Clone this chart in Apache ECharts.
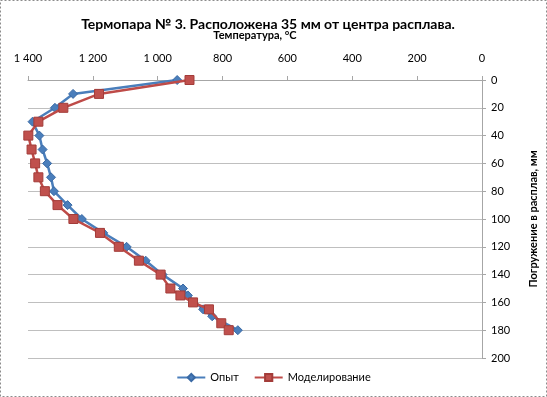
<!DOCTYPE html>
<html>
<head>
<meta charset="utf-8">
<title>Термопара № 3</title>
<script src="https://cdn.jsdelivr.net/npm/echarts@6/dist/echarts.min.js"></script>
<style>
  html, body { margin: 0; padding: 0; background: #fff; }
  #chart { width: 547px; height: 397px; }
</style>
</head>
<body>
<div id="chart"></div>
<script>
// Depth (mm) and temperature (°C).
const expDepth = [0, 10, 20, 30, 40, 50, 60, 70, 80, 90, 100, 110, 120, 130, 140, 150, 155, 165, 170, 180];
const expTemp = [940, 1261, 1317, 1386, 1365, 1355, 1341, 1329, 1320, 1278, 1234, 1168, 1096, 1037, 985, 922, 907, 860, 832, 753];

const modDepth = [0, 10, 20, 30, 40, 50, 60, 70, 80, 90, 100, 110, 120, 130, 140, 150, 155, 160, 165, 175, 180];
const modTemp = [902, 1181, 1291, 1368, 1399, 1389, 1378, 1368, 1348, 1309, 1260, 1178, 1120, 1058, 991, 961, 930, 891, 842, 804, 781];

const seriesNames = ['Опыт', 'Моделирование'];
const titleText = 'Термопара № 3. Расположена 35 мм от центра расплава.';
const xName = 'Температура, °C';
const yName = 'Погружение в расплав, мм';

const FONT = 'Lato, "Open Sans", sans-serif';

// Excel-style thousands separator: 1400 -> "1 400"
function fmtThousands(v) {
  return String(v).replace(/\B(?=(\d{3})+(?!\d))/g, ' ');
}

const chart = echarts.init(document.getElementById('chart'), null, { renderer: 'canvas' });

chart.setOption({
  animation: false,
  backgroundColor: '#fff',
  textStyle: { fontFamily: FONT },
  title: {
    text: titleText,
    left: 263,
    top: 12,
    textAlign: 'center',
    textStyle: { fontFamily: FONT, fontSize: 14, fontWeight: 'bold', color: '#000' },
  },
  legend: {
    data: seriesNames,
    bottom: 9,
    left: 'center',
    itemWidth: 28,
    itemHeight: 9,
    itemGap: 15,
    textStyle: { fontFamily: FONT, fontSize: 11, color: '#000' },
  },
  grid: { left: 28, right: 64, top: 80, bottom: 39, containLabel: false },
  xAxis: {
    type: 'value',
    position: 'top',
    inverse: true,
    min: 0,
    max: 1400,
    interval: 200,
    name: xName,
    nameLocation: 'middle',
    nameGap: 39,
    nameTextStyle: { fontFamily: FONT, fontSize: 11, fontWeight: 'bold', color: '#000', padding: [0, 0, 0, 0] },
    axisLine: { show: true, lineStyle: { color: '#a6a6a6', width: 1 } },
    axisTick: { show: true, length: 4, lineStyle: { color: '#a6a6a6' } },
    axisLabel: { color: '#000', fontSize: 11, margin: 16, formatter: fmtThousands },
    splitLine: { show: false },
  },
  yAxis: {
    type: 'value',
    position: 'right',
    inverse: true,
    min: 0,
    max: 200,
    interval: 20,
    name: yName,
    nameLocation: 'middle',
    nameGap: 46,
    nameRotate: 90,
    nameTextStyle: { fontFamily: FONT, fontSize: 11, fontWeight: 'bold', color: '#000' },
    axisLine: { show: true, lineStyle: { color: '#a6a6a6', width: 1 } },
    axisTick: { show: true, inside: false, length: 4, lineStyle: { color: '#a6a6a6' } },
    axisLabel: { color: '#000', fontSize: 11, margin: 9 },
    splitLine: { show: true, lineStyle: { color: '#bfbfbf', width: 1 } },
  },
  graphic: [
    {
      type: 'rect',
      shape: { x: 0.5, y: 0.5, width: 546, height: 396 },
      style: { fill: 'none', stroke: '#8c8c8c', lineWidth: 1, lineDash: [2, 2] },
      silent: true,
    },
  ],
  series: [
    {
      name: seriesNames[0],
      type: 'line',
      data: expTemp.map((t, i) => [t, expDepth[i]]),
      symbol: 'diamond',
      symbolSize: 9,
      lineStyle: { color: '#4a7ebb', width: 2.5 },
      itemStyle: { color: '#4a7ebb', borderColor: '#3a6aa5', borderWidth: 1 },
      z: 3,
    },
    {
      name: seriesNames[1],
      type: 'line',
      data: modTemp.map((t, i) => [t, modDepth[i]]),
      symbol: 'rect',
      symbolSize: 9,
      lineStyle: { color: '#be4b48', width: 2.5 },
      itemStyle: { color: '#c0504d', borderColor: '#a33c39', borderWidth: 1 },
      z: 4,
    },
  ],
});
</script>
</body>
</html>
